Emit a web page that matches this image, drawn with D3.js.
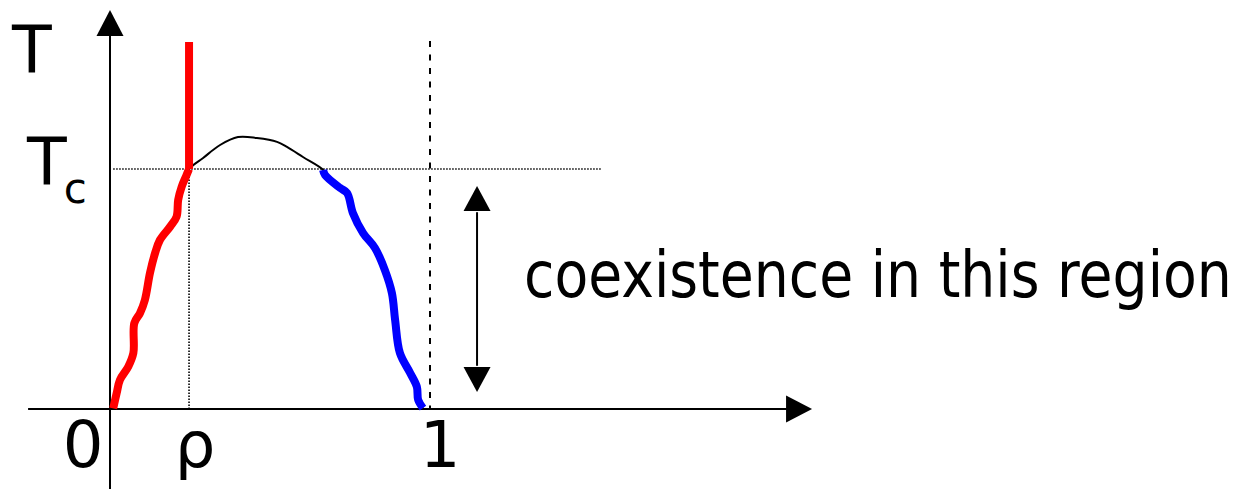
<!DOCTYPE html>
<html lang="en">
<head>
  <meta charset="UTF-8">
  <title>Coexistence region</title>
  <style>
    body { margin: 0; background: #fff; overflow: hidden; }
    text { font-family: "DejaVu Sans", Verdana, sans-serif; fill: #000; }
  </style>
</head>
<body>
  <script src="https://d3js.org/d3.v7.min.js"></script>
  <script>
    // density (0..1) and temperature (Tc = 1)
    const liquidBranch = [
      [0.010, 0.003], [0.021, 0.067], [0.031, 0.121], [0.057, 0.176], [0.073, 0.233],
      [0.076, 0.358], [0.094, 0.400], [0.109, 0.454], [0.125, 0.567], [0.141, 0.650],
      [0.156, 0.704], [0.188, 0.760], [0.208, 0.801], [0.213, 0.871], [0.224, 0.926],
      [0.238, 0.971], [0.247, 1.000]
    ];
    const topArc = [
      [0.247, 1.000], [0.291, 1.046], [0.344, 1.100], [0.400, 1.133], [0.459, 1.129],
      [0.522, 1.113], [0.553, 1.092], [0.603, 1.050], [0.666, 0.996]
    ];
    const gasBranch = [
      [0.666, 0.996], [0.672, 0.975], [0.719, 0.921], [0.741, 0.900], [0.759, 0.817],
      [0.791, 0.733], [0.828, 0.671], [0.859, 0.579], [0.881, 0.483], [0.891, 0.371],
      [0.906, 0.233], [0.938, 0.150], [0.959, 0.092], [0.963, 0.038], [0.978, 0.004]
    ];
    const rho = 0.247;
    const Tc = 1;
    const tickLabels = ["0", "ρ", "1"];
    const caption = "coexistence in this region";

    const width = 1244, height = 489;
    const x = d3.scaleLinear().domain([0, 1]).range([110, 430]);
    const y = d3.scaleLinear().domain([0, 1]).range([409, 169]);

    const svg = d3.select("body").append("svg").attr("width", width).attr("height", height);

    const line = d3.line().x(d => x(d[0])).y(d => y(d[1])).curve(d3.curveCatmullRom.alpha(0.5));

    function tri(cx, cy, dir, w, h) {
      if (dir === "up") return `M${cx},${cy}L${cx - w / 2},${cy + h}L${cx + w / 2},${cy + h}Z`;
      if (dir === "down") return `M${cx},${cy}L${cx - w / 2},${cy - h}L${cx + w / 2},${cy - h}Z`;
      return `M${cx},${cy}L${cx - h},${cy - w / 2}L${cx - h},${cy + w / 2}Z`;
    }

    // axes
    svg.append("line").attr("x1", x(-0.256)).attr("x2", x(2.115)).attr("y1", y(0)).attr("y2", y(0))
      .attr("stroke", "#000").attr("stroke-width", 2);
    svg.append("path").attr("d", tri(x(2.194), y(0), "right", 27, 26)).attr("fill", "#000");
    svg.append("line").attr("x1", x(0)).attr("x2", x(0)).attr("y1", y(-0.35)).attr("y2", y(1.58))
      .attr("stroke", "#000").attr("stroke-width", 2);
    svg.append("path").attr("d", tri(x(0), y(1.6625), "up", 27, 26)).attr("fill", "#000");

    // guide lines
    svg.append("line").attr("x1", x(0.01)).attr("x2", x(1.5375)).attr("y1", y(Tc)).attr("y2", y(Tc))
      .attr("stroke", "#000").attr("stroke-width", 1.6).attr("stroke-dasharray", "1.5,1.5");
    svg.append("line").attr("x1", x(rho)).attr("x2", x(rho)).attr("y1", y(0)).attr("y2", y(Tc))
      .attr("stroke", "#000").attr("stroke-width", 1.6).attr("stroke-dasharray", "1.5,1.5");
    svg.append("line").attr("x1", x(1)).attr("x2", x(1)).attr("y1", y(1.533)).attr("y2", y(0))
      .attr("stroke", "#000").attr("stroke-width", 2).attr("stroke-dasharray", "6,7.5");

    // thin coexistence curve
    svg.append("path").attr("d", line(liquidBranch.concat(topArc.slice(1), gasBranch.slice(1))))
      .attr("fill", "none").attr("stroke", "#000").attr("stroke-width", 2);

    // coloured branches
    svg.append("path").attr("d", line(liquidBranch)).attr("fill", "none")
      .attr("stroke", "#ff0000").attr("stroke-width", 8).attr("stroke-linejoin", "round");
    svg.append("line").attr("x1", x(rho)).attr("x2", x(rho)).attr("y1", y(Tc)).attr("y2", y(1.529))
      .attr("stroke", "#ff0000").attr("stroke-width", 8);
    svg.append("path").attr("d", line(gasBranch)).attr("fill", "none")
      .attr("stroke", "#0000ff").attr("stroke-width", 8).attr("stroke-linejoin", "round");

    // double arrow
    const ax = x(1.147);
    svg.append("line").attr("x1", ax).attr("x2", ax).attr("y1", y(0.18)).attr("y2", y(0.82))
      .attr("stroke", "#000").attr("stroke-width", 2);
    svg.append("path").attr("d", tri(ax, y(0.929), "up", 27, 25)).attr("fill", "#000");
    svg.append("path").attr("d", tri(ax, y(0.071), "down", 27, 25)).attr("fill", "#000");

    // labels
    svg.append("text").attr("x", x(0) - 98).attr("y", 73).attr("font-size", 65).text("T");
    const tc = svg.append("text").attr("x", x(0) - 83).attr("y", y(Tc) + 16).attr("font-size", 65);
    tc.append("tspan").text("T");
    tc.append("tspan").attr("font-size", 42).attr("dy", 18).attr("dx", -3).text("c");

    const tickPos = [x(0) - 27, x(rho) + 6, x(1) + 10];
    svg.selectAll("text.tick").data(tickLabels).enter().append("text")
      .attr("class", "tick")
      .attr("x", (d, i) => tickPos[i]).attr("y", y(0) + 58)
      .attr("text-anchor", "middle").attr("font-size", 64)
      .text(d => d);

    // caption squeezed horizontally to the reference width
    const cap = svg.append("text").attr("x", 0).attr("y", 0).attr("font-size", 64).text(caption);
    const natural = cap.node().getComputedTextLength();
    cap.attr("transform", `translate(524,297) scale(${708 / natural},1)`);
  </script>
</body>
</html>
